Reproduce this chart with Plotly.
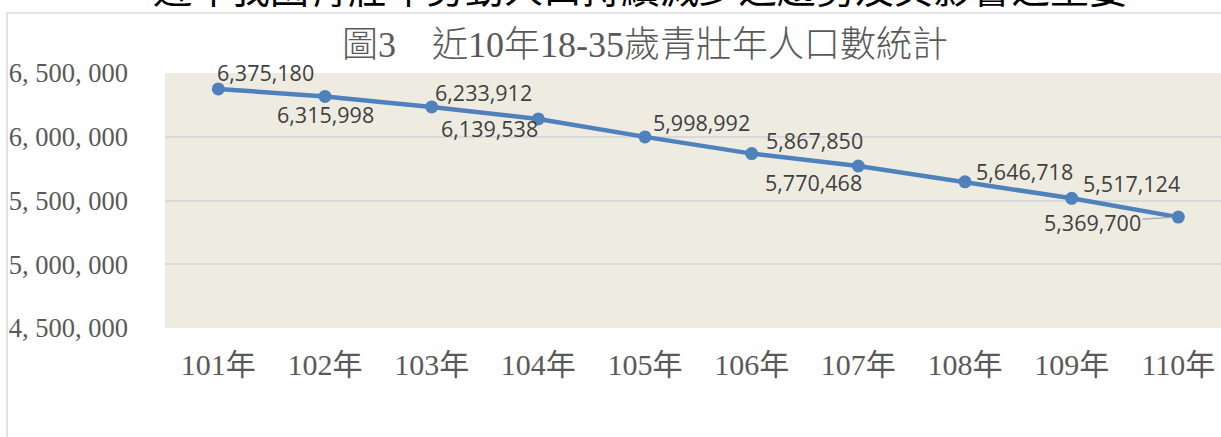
import plotly.graph_objects as go

# ---- data ----
years = ["101年", "102年", "103年", "104年", "105年", "106年", "107年", "108年", "109年", "110年"]
population = [6375180, 6315998, 6233912, 6139538, 5998992, 5867850, 5770468, 5646718, 5517124, 5369700]
y_tick_values = [4500000, 5000000, 5500000, 6000000, 6500000]
title_text = "圖3　近10年18-35歲青壯年人口數統計"
clipped_heading = "近年我國青壯年勞動人口持續減少之趨勢及其影響之重要"

# ---- layout constants (px) ----
W, H = 1221, 437
ML, MR, MT, MB = 165, 0, 73, 109
PW = W - ML - MR
PH = H - MT - MB

def px_to_paper_x(px):
    return (px - ML) / PW

def px_to_paper_y(py):
    return (H - MB - py) / PH

LINE_COLOR = "#4F81BD"
LABEL_COLOR = "#404040"
AXIS_TEXT = "#595959"
GRID = "#D9D9D9"
SERIF = "Liberation Serif, Noto Sans CJK TC, serif"
SANS = "Open Sans, Lato, sans-serif"

fig = go.Figure()
fig.add_trace(go.Scatter(
    x=years, y=population, mode="lines+markers",
    line=dict(color=LINE_COLOR, width=4.5),
    marker=dict(color=LINE_COLOR, size=13),
    hoverinfo="skip", showlegend=False,
))

# label placement per point: (xanchor, xshift, yshift)
placements = [
    ("left", -3, 16),
    ("center", 0, -18),
    ("left", 1, 14),
    ("right", 2, -10),
    ("left", 6, 14),
    ("left", 12, 13),
    ("right", 6, -16),
    ("left", 9, 10),
    ("left", 9, 15),
    None,
]

annotations = []
for i, (yr, v) in enumerate(zip(years, population)):
    txt = f"{v:,}"
    p = placements[i]
    if p is None:
        annotations.append(dict(
            x=yr, y=v, xref="x", yref="y", text=txt,
            showarrow=True, ax=-86, ay=5, arrowhead=0, arrowwidth=1.3,
            arrowcolor="#A6A6A6", standoff=6,
            font=dict(family=SANS, size=21.5, color=LABEL_COLOR),
        ))
    else:
        xa, xs, ys = p
        annotations.append(dict(
            x=yr, y=v, xref="x", yref="y", text=txt, showarrow=False,
            xanchor=xa, yanchor="middle", xshift=xs, yshift=ys,
            font=dict(family=SANS, size=21.5, color=LABEL_COLOR),
        ))

# clipped heading from the surrounding document (only its lower part shows)
annotations.append(dict(
    x=px_to_paper_x(640), y=px_to_paper_y(16), xref="paper", yref="paper",
    text=clipped_heading, showarrow=False, xanchor="center", yanchor="bottom",
    font=dict(family="Noto Sans CJK TC, sans-serif", size=39, color="#000000"),
))

shapes = [
    dict(type="rect", xref="paper", yref="paper",
         x0=px_to_paper_x(7), x1=px_to_paper_x(W + 20),
         y0=px_to_paper_y(H + 20), y1=px_to_paper_y(13),
         line=dict(color=GRID, width=1.5), fillcolor="rgba(0,0,0,0)", layer="below"),
]

fig.update_layout(
    width=W, height=H,
    margin=dict(l=ML, r=MR, t=MT, b=MB),
    paper_bgcolor="white",
    plot_bgcolor="#EEECE1",
    title=dict(text=title_text, x=645 / W, xref="container", xanchor="center",
               y=1 - 44 / H, yref="container", yanchor="middle",
               font=dict(family=SERIF, size=36, color=AXIS_TEXT, weight=300)),
    xaxis=dict(range=[-0.5, 9.4], showgrid=False, zeroline=False, showline=False,
               ticks="", ticklabelstandoff=16,
               tickfont=dict(family=SERIF, size=30, color=AXIS_TEXT)),
    yaxis=dict(range=[y_tick_values[0], y_tick_values[-1]],
               tickvals=y_tick_values,
               ticktext=[f"{v:,}".replace(",", ", ") for v in y_tick_values],
               showgrid=True, gridcolor=GRID, gridwidth=1.5,
               zeroline=False, showline=False, ticks="", ticklabelstandoff=36,
               tickfont=dict(family=SERIF, size=26.5, color=AXIS_TEXT)),
    annotations=annotations,
    shapes=shapes,
)

fig.write_html("out.html")
